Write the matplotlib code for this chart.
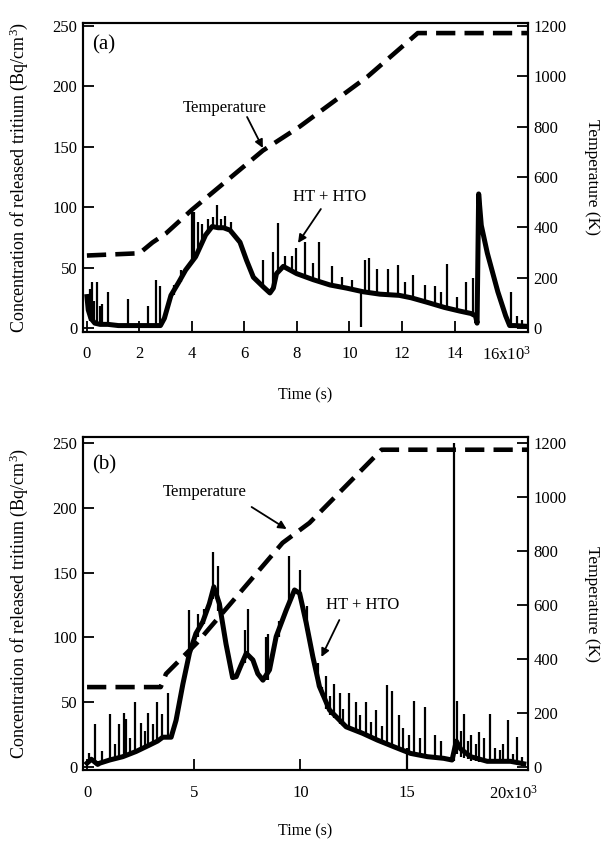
import matplotlib
matplotlib.use("Agg")
import matplotlib.pyplot as plt

plt.rcParams['font.family'] = ['Liberation Serif', 'DejaVu Serif']
plt.rcParams['mathtext.fontset'] = 'custom'
plt.rcParams['mathtext.rm'] = 'Liberation Serif'
plt.rcParams['mathtext.it'] = 'Liberation Serif:italic'

# ---------------- Panel (a) data (time in 10^3 s) ----------------
a_time = [0.0, 0.05, 0.15, 0.3, 0.5, 0.8, 1.2, 1.6, 2.0, 2.4, 2.8, 2.95, 3.2, 3.5,
          3.76, 4.14, 4.52, 4.77, 5.0, 5.2, 5.45, 5.83, 6.08, 6.34, 6.72, 6.97, 7.1,
          7.22, 7.48, 7.99, 8.62, 9.26, 9.89, 10.52, 11.16, 11.9, 12.35, 13.0, 13.62,
          14.2, 14.63, 14.8, 14.86, 14.92, 15.02, 15.25, 15.65, 15.95, 16.1, 16.3, 16.67]
a_conc = [26, 15, 8, 4, 3, 3, 2, 2, 2, 2, 2, 8, 27, 38,
          48, 59, 77, 84, 83, 83, 81, 71, 56, 42, 34, 29, 33,
          45, 51, 45, 40, 35.6, 33, 30, 28, 27, 25, 21, 17,
          14, 12, 10, 4, 111, 85, 62, 30, 10, 2, 2, 1.5]
a_spike_t = [0.1, 0.18, 0.26, 0.37, 0.48, 0.56, 0.81, 1.57, 2.34, 2.63, 2.78, 3.3, 3.6,
             3.99, 4.07, 4.24, 4.4, 4.62, 4.8, 4.94, 5.1, 5.26, 5.5, 6.72, 7.1, 7.29,
             7.55, 7.8, 7.95, 8.3, 8.6, 8.85, 9.32, 9.7, 10.1, 10.43, 10.6, 10.74,
             11.05, 11.47, 11.86, 12.1, 12.43, 12.88, 13.26, 13.5, 13.7, 14.1, 14.42,
             14.72, 16.14, 16.37, 16.57]
a_spike_lo = [6, 5, 4, 4, 3, 3, 3, 2, 2, 2, 2, 27, 38,
              55, 58, 65, 70, 78, 82, 84, 82, 82, 78, 34, 33, 46,
              50, 48, 46, 43, 40, 39, 36, 34, 32, 1, 30, 30,
              29, 27, 27, 26, 25, 22, 19, 18, 16, 14, 13,
              12, 0, 0, 0]
a_spike_hi = [32, 38, 22, 38, 18, 20, 30, 24, 18, 40, 35, 36, 48,
              97, 96, 88, 86, 90, 92, 102, 90, 93, 88, 56, 63, 87,
              60, 60, 66, 71, 54, 71, 51, 42, 40, 30, 56, 58,
              49, 49, 52, 38, 44, 36, 35, 30, 53, 26, 38,
              41, 30, 10, 7]
a_temp_t = [0.0, 2.0, 2.5, 3.0, 4.0, 6.7, 8.1, 10.7, 12.6, 16.8]
a_temp_K = [288, 297, 340, 375, 470, 705, 800, 1000, 1172, 1172]

# ---------------- Panel (b) data ----------------
b_time = [0.0, 0.2, 0.5, 0.6, 1.06, 1.68, 2.3, 2.93, 3.3, 3.55, 3.94, 4.17, 4.49,
          4.8, 5.1, 5.42, 5.73, 5.94, 6.2, 6.51, 6.82, 6.99, 7.2, 7.46, 7.77, 8.0,
          8.24, 8.55, 8.86, 9.33, 9.72, 9.96, 10.27, 10.58, 10.89, 11.36, 12.14,
          12.91, 13.6, 14.38, 15.16, 15.94, 16.71, 17.1, 17.3, 17.5, 17.97, 18.75,
          19.84, 20.46]
b_conc = [3, 6, 2, 3, 5.4, 8, 12, 17, 20, 23, 23, 36, 64,
          88, 103, 112, 126, 139, 126, 95, 69, 69.7, 78, 87.7, 82.6, 72,
          67, 75, 100.6, 121, 136.6, 134, 111, 85, 62, 44, 31,
          26, 20.8, 15.6, 10.5, 8, 6.7, 5.4, 20, 14, 8, 4.4,
          4.4, 2.5]
b_spike_t = [0.1, 0.36, 0.7, 1.09, 1.3, 1.5, 1.71, 1.84, 2.0, 2.23, 2.54, 2.7, 2.85,
             3.1, 3.27, 3.5, 3.79, 4.77, 5.2, 5.5, 5.89, 6.14, 7.38, 7.54, 8.4, 8.47,
             8.99, 9.46, 10.0, 10.3, 10.8, 11.0, 11.2, 11.4, 11.59, 11.86, 12.0, 12.26,
             12.6, 12.8, 13.07, 13.3, 13.54, 13.8, 14.03, 14.28, 14.6, 14.8, 14.97,
             15.1, 15.33, 15.6, 15.84, 16.3, 16.6, 17.21, 17.35, 17.5, 17.68, 17.85,
             18.0, 18.2, 18.35, 18.6, 18.9, 19.1, 19.33, 19.5, 19.72, 19.95, 20.16,
             20.4]
b_spike_lo = [2, 3, 3, 5, 6, 6, 7, 8, 9, 10, 12, 14, 15,
              18, 20, 22, 23, 85, 100, 110, 130, 120, 80, 85, 67, 67,
              100, 128, 130, 105, 62, 55, 45, 40, 38, 33, 32, 30,
              28, 27, 25, 23, 21, 20, 18, 16, 14, 13, -2,
              11, 10, 9, 8, 7, 6, 5, 10, 8, 7, 6,
              5, 5, 4, 4, 4, 3, 3, 3, 3, 2, 2,
              1]
b_spike_hi = [11, 33, 12, 41, 18, 33, 41.5, 37, 22, 50.5, 34, 28, 41.5,
              33, 50.5, 41, 57, 121, 118, 122, 166, 155, 106, 121.6, 100.6, 103,
              113, 163, 152, 124, 80, 62, 70, 55, 64, 57, 45, 57,
              50, 40, 50, 35, 44, 32, 63, 59, 40, 30, 15,
              25, 51, 22, 46, 25, 20, 250, 51, 28, 41, 20,
              25, 18, 27, 22, 41, 15, 13, 18, 36, 10, 23,
              8]
b_temp_t = [0.0, 3.45, 3.7, 4.67, 5.14, 9.16, 10.42, 13.8, 20.66]
b_temp_K = [296, 296, 345, 422, 459, 830, 904, 1175, 1175]

a_xticks = [0, 2, 4, 6, 8, 10, 12, 14, 16]
a_xlabels = ['0', '2', '4', '6', '8', '10', '12', '14', '16x10$^{3}$']
b_xticks = [0, 5, 10, 15, 20]
b_xlabels = ['0', '5', '10', '15', '20x10$^{3}$']
conc_ticks = [0, 50, 100, 150, 200, 250]
temp_ticks = [0, 200, 400, 600, 800, 1000, 1200]

fig = plt.figure(figsize=(6.04, 8.43), dpi=100)

def style(ax):
    for s in ax.spines.values():
        s.set_linewidth(1.5)
    ax.tick_params(direction='in', length=8, width=1.3, labelsize=12)


def panel(rect, t, c, st, slo, shi, tt, tk, xlim, ylim, xticks, xlabels, tag,
          xpad, tlab_y, tag_y):
    ax = fig.add_axes(rect)
    ax.plot(t, c, color='k', lw=3.6, solid_joinstyle='round')
    ax.vlines(st, slo, shi, color='k', lw=1.6)
    ax.set_xlim(*xlim)
    ax.set_ylim(*ylim)
    ax.set_yticks(conc_ticks)
    ax.set_xticks(xticks)
    ax.set_xticklabels(xlabels)
    style(ax)
    ax.tick_params(axis='x', pad=xpad)
    ax.tick_params(axis='y', pad=4)
    ax.xaxis.get_major_ticks()[-1].tick1line.set_visible(False)
    ax.set_ylabel('Concentration of released tritium (Bq/cm$^{3}$)', fontsize=13)
    ax.yaxis.set_label_coords(-0.12, 0.5)
    ax.set_xlabel('Time (s)', fontsize=11.5)
    ax.xaxis.set_label_coords(0.5, tlab_y)
    ax.text(0.02, tag_y, tag, transform=ax.transAxes,
            fontsize=15, ha='left', va='center')
    ax2 = ax.twinx()
    ax2.plot(tt, tk, color='k', lw=3.3, dashes=(4.2, 2.0))
    ax2.set_ylim(ylim[0] * 4.8, ylim[1] * 4.8)
    ax2.set_yticks(temp_ticks)
    style(ax2)
    ax2.tick_params(axis='y', pad=4)
    ax2.set_ylabel('Temperature (K)', fontsize=12.5, rotation=270, va='center')
    ax2.yaxis.set_label_coords(1.143, 0.5)
    return ax, ax2

axA, axA2 = panel([0.1374, 0.6062, 0.7368, 0.3665], a_time, a_conc, a_spike_t,
                  a_spike_lo, a_spike_hi, a_temp_t, a_temp_K, (-0.15, 16.8),
                  (-3.3, 252.5), a_xticks, a_xlabels, '(a)', 10, -0.178, 0.93)
axB, axB2 = panel([0.1374, 0.0866, 0.7368, 0.395], b_time, b_conc, b_spike_t,
                  b_spike_lo, b_spike_hi, b_temp_t, b_temp_K, (-0.19, 20.66),
                  (-2.3, 254.6), b_xticks, b_xlabels, '(b)', 11, -0.159, 0.916)

arrow = dict(arrowstyle='-|>', color='k', lw=1.3, mutation_scale=12,
             shrinkA=0, shrinkB=0)

axA.text(5.26, 182, 'Temperature', fontsize=12, ha='center', va='center')
axA.annotate('', xy=(6.7, 149), xytext=(6.1, 174.7), arrowprops=arrow)
axA.text(9.26, 108.4, 'HT + HTO', fontsize=12, ha='center', va='center')
axA.annotate('', xy=(8.04, 70.4), xytext=(8.91, 98.5), arrowprops=arrow)

axB.text(5.51, 212, 'Temperature', fontsize=12, ha='center', va='center')
axB.annotate('', xy=(9.35, 183.6), xytext=(7.71, 200.6), arrowprops=arrow)
axB.text(12.9, 125, 'HT + HTO', fontsize=12, ha='center', va='center')
axB.annotate('', xy=(10.98, 84.9), xytext=(11.82, 113.4), arrowprops=arrow)

fig.savefig('out.png', dpi=100)
